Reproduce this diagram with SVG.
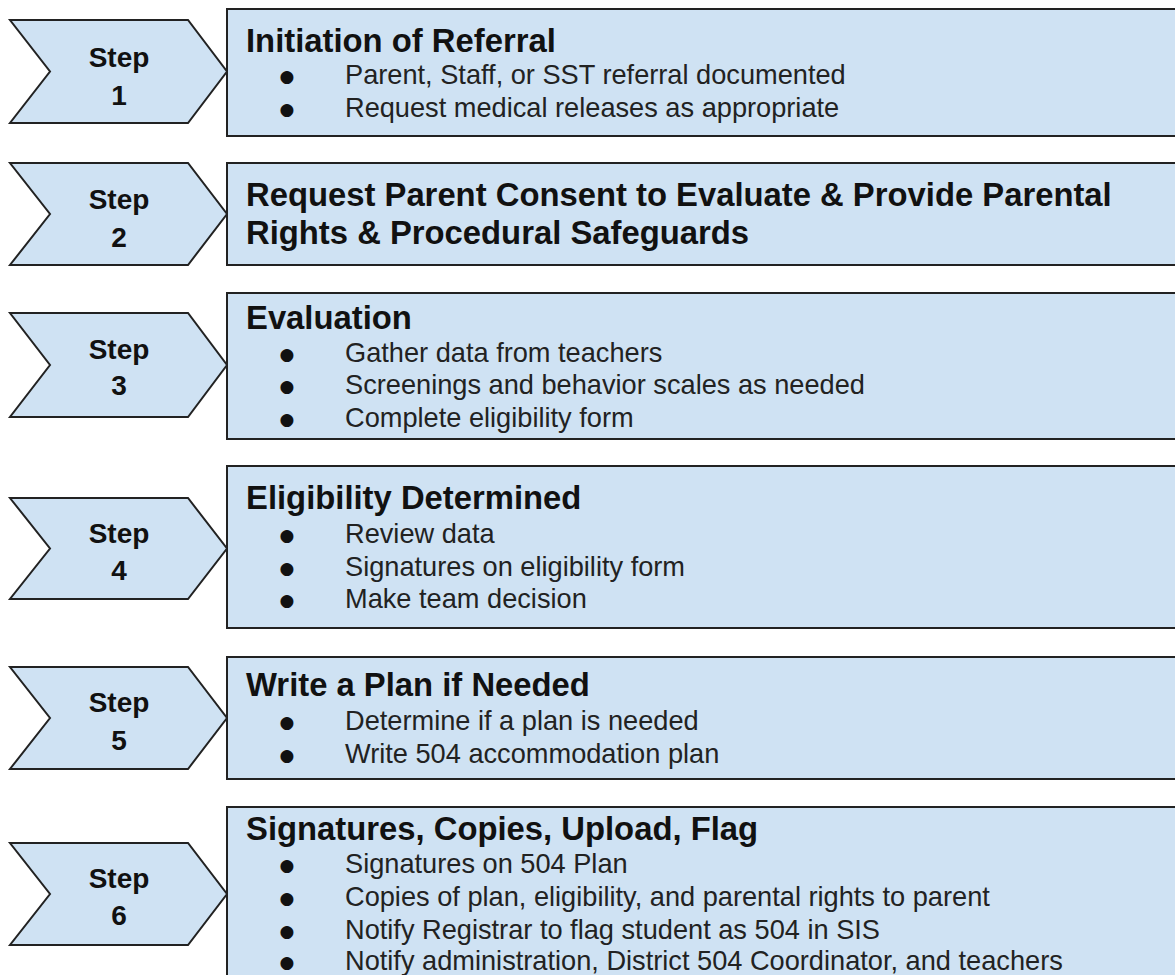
<svg xmlns="http://www.w3.org/2000/svg" width="1175" height="975" viewBox="0 0 1175 975">
<style>
.shape{fill:#cfe2f3;stroke:#222;stroke-width:2}
.step{font-family:"Liberation Sans",Arial,sans-serif;font-weight:bold;font-size:28px;fill:#111;text-anchor:middle}
.title{font-family:"Liberation Sans",Arial,sans-serif;font-weight:bold;font-size:32.8px;fill:#111}
.item{font-family:"Liberation Sans",Arial,sans-serif;font-size:27.2px;fill:#222}
.dot{font-family:"DejaVu Sans",sans-serif;font-size:17px;fill:#111;text-anchor:middle}
</style>
<rect width="1175" height="975" fill="#fff"/>
<g id="connectors"></g>
<g id="step1">
<path class="shape" d="M10,20 H188 L227,71.5 L188,123 H10 L50,71.5 Z"/>
<text class="step" x="119" y="67">Step</text>
<text class="step" x="119" y="105">1</text>
</g>
<g id="box1">
<rect class="shape" x="227" y="9" width="960" height="127"/>
<text class="title" x="246" y="52">Initiation of Referral</text>
<text class="dot" x="287" y="82">●</text>
<text class="item" x="345" y="84">Parent, Staff, or SST referral documented</text>
<text class="dot" x="287" y="115">●</text>
<text class="item" x="345" y="117">Request medical releases as appropriate</text>
</g>
<g id="step2">
<path class="shape" d="M10,163 H188 L227,214 L188,265 H10 L50,214 Z"/>
<text class="step" x="119" y="209">Step</text>
<text class="step" x="119" y="247">2</text>
</g>
<g id="box2">
<rect class="shape" x="227" y="163" width="960" height="102"/>
<text class="title" x="246" y="206">Request Parent Consent to Evaluate &amp; Provide Parental</text>
<text class="title" x="246" y="244">Rights &amp; Procedural Safeguards</text>
</g>
<g id="step3">
<path class="shape" d="M10,313 H188 L227,365 L188,417 H10 L50,365 Z"/>
<text class="step" x="119" y="359">Step</text>
<text class="step" x="119" y="395">3</text>
</g>
<g id="box3">
<rect class="shape" x="227" y="293" width="960" height="146"/>
<text class="title" x="246" y="329">Evaluation</text>
<text class="dot" x="287" y="360">●</text>
<text class="item" x="345" y="362">Gather data from teachers</text>
<text class="dot" x="287" y="392">●</text>
<text class="item" x="345" y="394">Screenings and behavior scales as needed</text>
<text class="dot" x="287" y="425">●</text>
<text class="item" x="345" y="427">Complete eligibility form</text>
</g>
<g id="step4">
<path class="shape" d="M10,498 H188 L227,548.5 L188,599 H10 L50,548.5 Z"/>
<text class="step" x="119" y="543">Step</text>
<text class="step" x="119" y="580">4</text>
</g>
<g id="box4">
<rect class="shape" x="227" y="466" width="960" height="162"/>
<text class="title" x="246" y="509">Eligibility Determined</text>
<text class="dot" x="287" y="541">●</text>
<text class="item" x="345" y="543">Review data</text>
<text class="dot" x="287" y="574">●</text>
<text class="item" x="345" y="576">Signatures on eligibility form</text>
<text class="dot" x="287" y="606">●</text>
<text class="item" x="345" y="608">Make team decision</text>
</g>
<g id="step5">
<path class="shape" d="M10,667 H188 L227,718 L188,769 H10 L50,718 Z"/>
<text class="step" x="119" y="712">Step</text>
<text class="step" x="119" y="750">5</text>
</g>
<g id="box5">
<rect class="shape" x="227" y="657" width="960" height="122"/>
<text class="title" x="246" y="696">Write a Plan if Needed</text>
<text class="dot" x="287" y="728">●</text>
<text class="item" x="345" y="730">Determine if a plan is needed</text>
<text class="dot" x="287" y="761">●</text>
<text class="item" x="345" y="763">Write 504 accommodation plan</text>
</g>
<g id="step6">
<path class="shape" d="M10,843 H188 L227,894 L188,945 H10 L50,894 Z"/>
<text class="step" x="119" y="888">Step</text>
<text class="step" x="119" y="925">6</text>
</g>
<g id="box6">
<rect class="shape" x="227" y="807" width="960" height="200"/>
<text class="title" x="246" y="840">Signatures, Copies, Upload, Flag</text>
<text class="dot" x="287" y="871">●</text>
<text class="item" x="345" y="873">Signatures on 504 Plan</text>
<text class="dot" x="287" y="904">●</text>
<text class="item" x="345" y="906">Copies of plan, eligibility, and parental rights to parent</text>
<text class="dot" x="287" y="937">●</text>
<text class="item" x="345" y="939">Notify Registrar to flag student as 504 in SIS</text>
<text class="dot" x="287" y="968">●</text>
<text class="item" x="345" y="970">Notify administration, District 504 Coordinator, and teachers</text>
</g>
</svg>
